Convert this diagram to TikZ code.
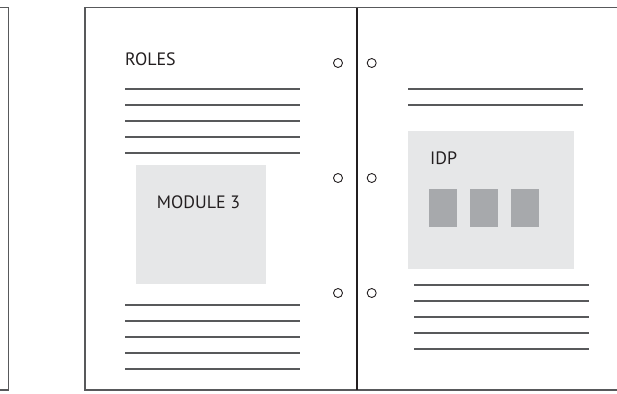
\documentclass[tikz,border=0pt]{standalone}
\usepackage{fontspec}
\setmainfont{PT Sans}
\usetikzlibrary{positioning}

\definecolor{rulegray}{HTML}{58595B}
\definecolor{inkdark}{HTML}{231F20}
\definecolor{panelgray}{HTML}{E6E7E8}
\definecolor{tilegray}{HTML}{A7A9AC}

\begin{document}
\begin{tikzpicture}[
  x=1bp, y=-1bp,
  frame/.style={draw=rulegray, line width=1.5bp},
  spine/.style={draw=inkdark, line width=2bp},
  textline/.style={draw=rulegray, line width=1.7bp},
  ring/.style={circle, draw=inkdark, line width=0.9bp, minimum size=9bp, inner sep=0pt},
  panel/.style={rectangle, fill=panelgray, inner sep=0pt},
  tile/.style={rectangle, fill=tilegray, inner sep=0pt, minimum width=28bp, minimum height=37.5bp},
  label/.style={anchor=base west, inner sep=0pt, text=inkdark, font=\fontsize{18}{20}\selectfont}
]
\useasboundingbox (0,0) rectangle (617,393);

\draw[frame] (0,7.5) -- (8.3,7.5) -- (8.3,390) -- (0,390);
\draw[frame] (617,7.5) -- (85,7.5) -- (85,390) -- (617,390);
\draw[spine] (356.7,7.5) -- (356.7,390);

\node[ring] (r1) at (338,63) {};
\node[ring] (r2) at (338,178) {};
\node[ring] (r3) at (338,293) {};
\node[ring] (r4) at (371.7,63) {};
\node[ring] (r5) at (371.7,178) {};
\node[ring] (r6) at (371.7,293) {};

\node[label] (roles) at (125,65.5) {ROLES};

\draw[textline] (125,89) -- (300,89);
\draw[textline] (125,105) -- (300,105);
\draw[textline] (125,121) -- (300,121);
\draw[textline] (125,137) -- (300,137);
\draw[textline] (125,153) -- (300,153);

\node[panel, minimum width=130bp, minimum height=119bp] (module) at (201,224.5) {};
\node[label] (moduletitle) at (156.7,208) {MODULE 3};

\draw[textline] (125,305.3) -- (300,305.3);
\draw[textline] (125,321.3) -- (300,321.3);
\draw[textline] (125,337.3) -- (300,337.3);
\draw[textline] (125,353.3) -- (300,353.3);
\draw[textline] (125,369.3) -- (300,369.3);

\draw[textline] (408,89) -- (583,89);
\draw[textline] (408,105) -- (583,105);

\node[panel, minimum width=166bp, minimum height=138bp] (idp) at (491,200) {};
\node[label] (idptitle) at (430,164) {IDP};
\node[tile] (t1) at (443,208) {};
\node[tile] (t2) at (484,208) {};
\node[tile] (t3) at (525,208) {};

\draw[textline] (414.3,285) -- (589.3,285);
\draw[textline] (414.3,301) -- (589.3,301);
\draw[textline] (414.3,317) -- (589.3,317);
\draw[textline] (414.3,333) -- (589.3,333);
\draw[textline] (414.3,349) -- (589.3,349);

\end{tikzpicture}
\end{document}
